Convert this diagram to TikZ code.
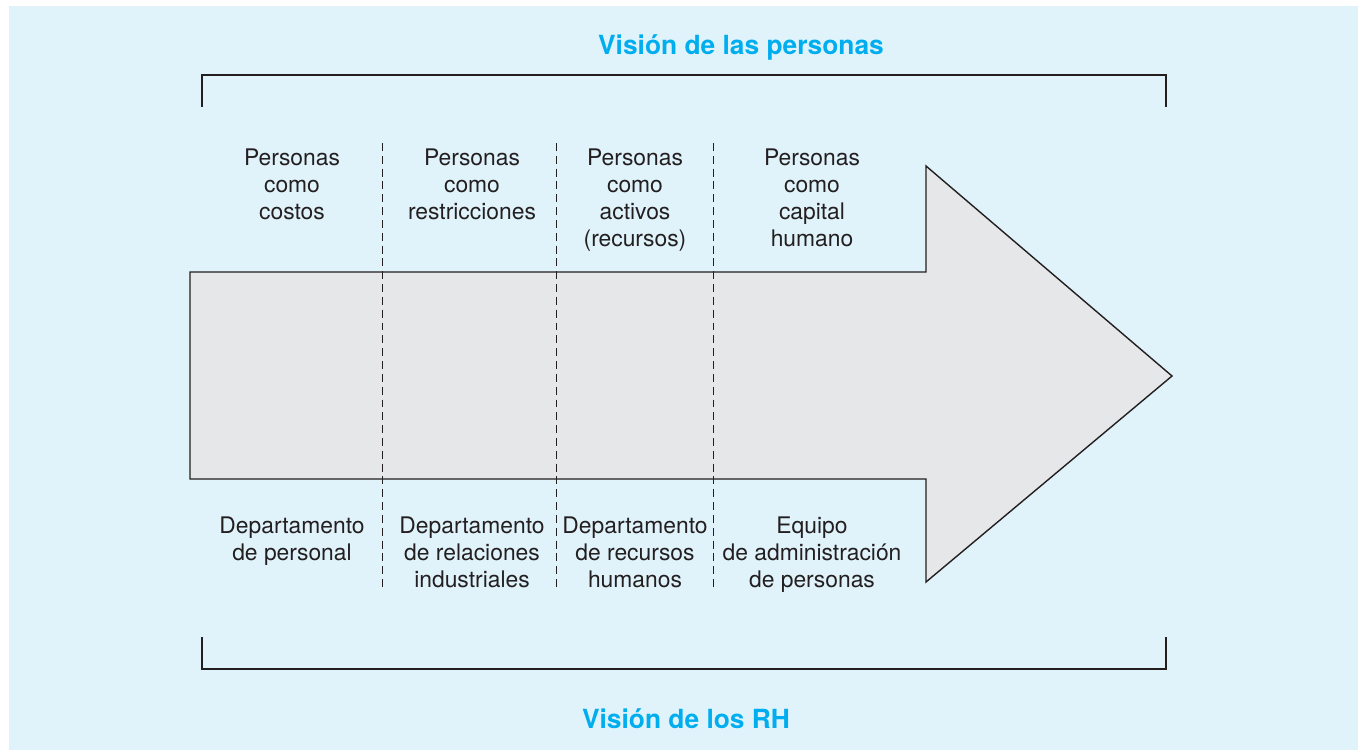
\documentclass[tikz,border=0pt]{standalone}
\usepackage{fontspec}
\setmainfont{TeX Gyre Heros}

\definecolor{fondo}{RGB}{224,243,251}
\definecolor{celeste}{RGB}{0,174,239}
\definecolor{flecha}{RGB}{230,231,233}
\definecolor{texto}{RGB}{35,31,32}

\begin{document}
\begin{tikzpicture}[x=0.02cm,y=-0.02cm,
    etiqueta/.style={align=center,anchor=north,inner sep=0pt,text=texto,
      font=\fontsize{13}{15.4}\selectfont},
    titulo/.style={anchor=base,inner sep=0pt,text=celeste,
      font=\fontsize{15}{18}\selectfont\bfseries},
    linea/.style={draw=texto,line width=0.8pt},
    divisor/.style={draw=texto,line width=0.5pt,dash pattern=on 4.5pt off 2.8pt}]
    \useasboundingbox (0,0) rectangle (1358,750);
    \fill[fondo] (9,6) rectangle (1358,750);
    % flecha
    \draw[linea,fill=flecha] (190,272) -- (926,272) -- (926,166) -- (1172,376)
      -- (926,582) -- (926,479) -- (190,479) -- cycle;
    \foreach \x in {382,556,713}
      \draw[divisor] (\x,143) -- (\x,590);
    % llaves
    \draw[linea] (202,107) -- (202,75) -- (1166,75) -- (1166,107);
    \draw[linea] (202,637) -- (202,669) -- (1166,669) -- (1166,637);
    \node[titulo] (vpersonas) at (741,55) {Visión de las personas};
    \node[titulo] (vrh) at (686,728) {Visión de los RH};
    % columnas
    \node[etiqueta] (costos) at (292,148) {Personas\\como\\costos};
    \node[etiqueta] (restricciones) at (472,148) {Personas\\como\\restricciones};
    \node[etiqueta] (activos) at (635,148) {Personas\\como\\activos\\(recursos)};
    \node[etiqueta] (capital) at (812,148) {Personas\\como\\capital\\humano};
    \node[etiqueta] (personal) at (292,516) {Departamento\\de personal};
    \node[etiqueta] (relaciones) at (472,516) {Departamento\\de relaciones\\industriales};
    \node[etiqueta] (recursos) at (635,516) {Departamento\\de recursos\\humanos};
    \node[etiqueta] (equipo) at (812,516) {Equipo\\de administración\\de personas};
\end{tikzpicture}
\end{document}
